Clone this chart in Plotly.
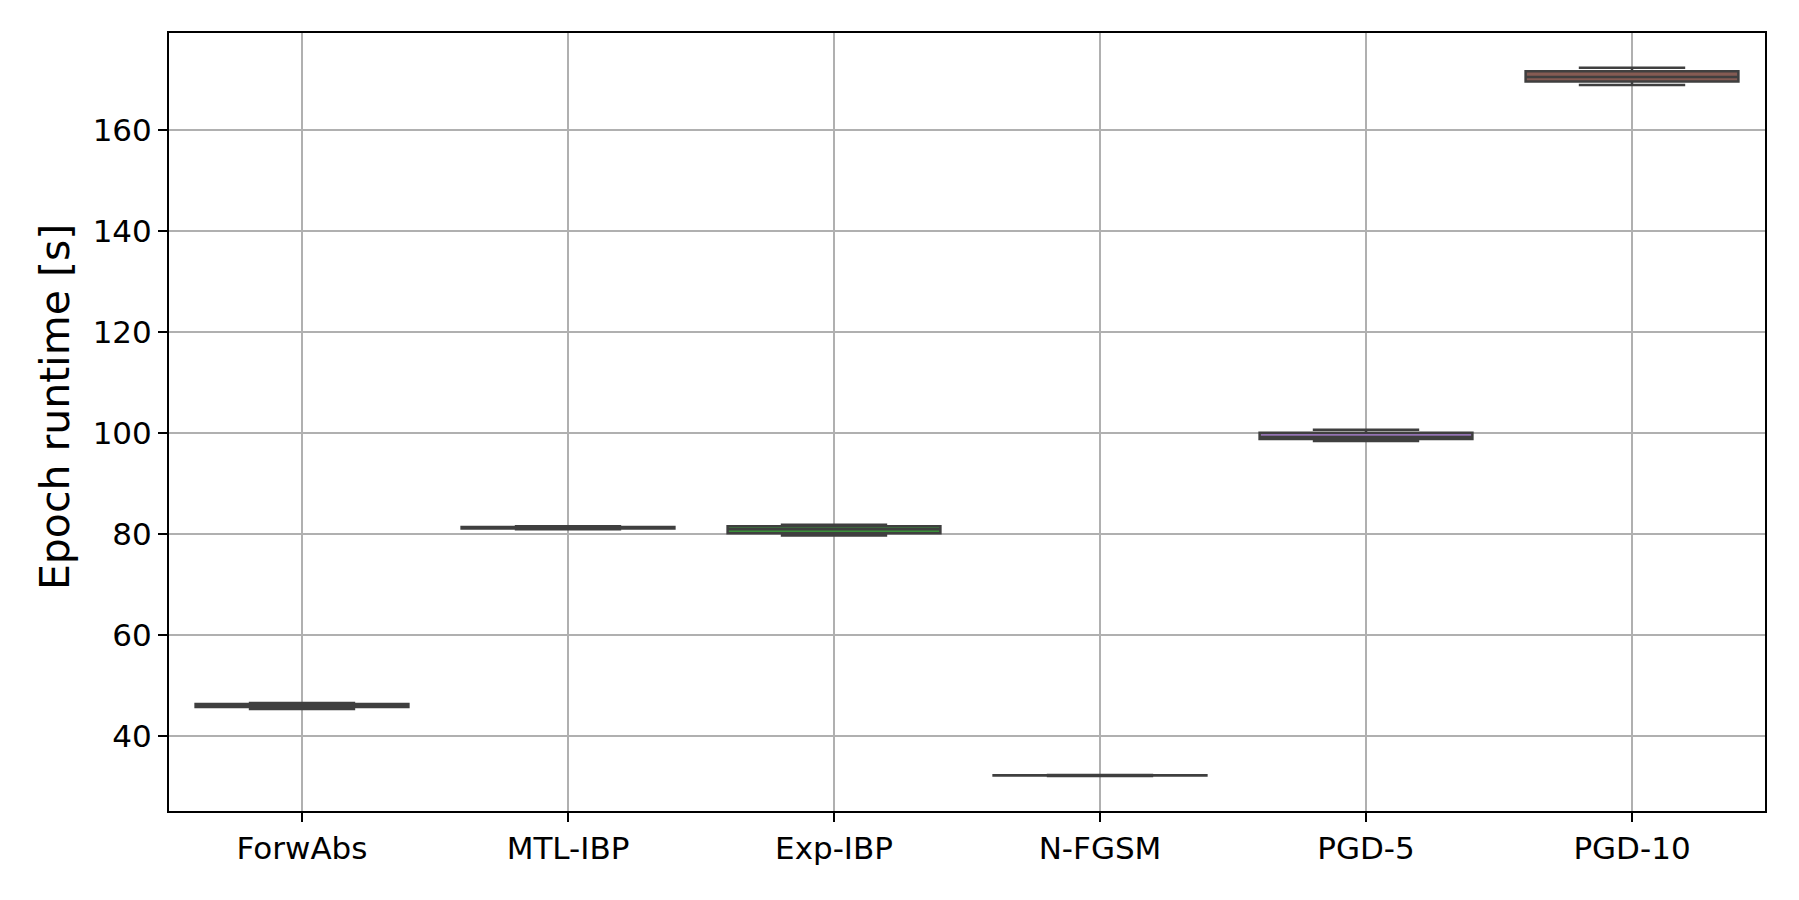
import plotly.graph_objects as go

methods = ["ForwAbs", "MTL-IBP", "Exp-IBP", "N-FGSM", "PGD-5", "PGD-10"]
lower = [45.4, 81.0, 79.75, 32.15, 98.5, 169.0]
q1 = [45.8, 81.15, 80.2, 32.22, 98.9, 169.7]
median = [46.1, 81.3, 81.0, 32.26, 99.3, 170.6]
q3 = [46.4, 81.45, 81.6, 32.30, 100.1, 171.7]
upper = [46.6, 81.6, 81.9, 32.35, 100.7, 172.4]
colors = ["#3274a1", "#e1812c", "#3a923a", "#c03d3e", "#9372b2", "#845b53"]

fig = go.Figure()
for i, m in enumerate(methods):
    fig.add_trace(go.Box(
        x=[m], q1=[q1[i]], median=[median[i]], q3=[q3[i]],
        lowerfence=[lower[i]], upperfence=[upper[i]],
        fillcolor=colors[i], line=dict(color="#3f3f3f", width=2.5),
        width=0.8, whiskerwidth=0.5, boxpoints=False, showlegend=False,
        hoverinfo="y",
    ))

axis_common = dict(
    showline=True, linecolor="black", linewidth=2, mirror=True,
    ticks="outside", ticklen=9, tickwidth=2, tickcolor="black",
    showgrid=True, gridcolor="#b0b0b0", gridwidth=2,
    tickfont=dict(family="DejaVu Sans", size=31, color="black"),
    zeroline=False,
)

fig.update_layout(
    width=1799, height=900,
    margin=dict(l=161, r=42, t=25, b=97, autoexpand=False),
    paper_bgcolor="white", plot_bgcolor="white",
    font=dict(family="DejaVu Sans", color="black"),
    xaxis=dict(axis_common, type="category", range=[-0.5, 5.5],
               categoryorder="array", categoryarray=methods),
    yaxis=dict(axis_common, range=[25.2, 179.3], tickvals=[40, 60, 80, 100, 120, 140, 160]),
    annotations=[dict(
        text="Epoch runtime [s]", textangle=-90, showarrow=False,
        xref="paper", yref="paper", x=-0.0715, y=0.519,
        xanchor="center", yanchor="middle",
        font=dict(family="DejaVu Sans", size=41, color="black"),
    )],
)

fig.write_html("out.html")
